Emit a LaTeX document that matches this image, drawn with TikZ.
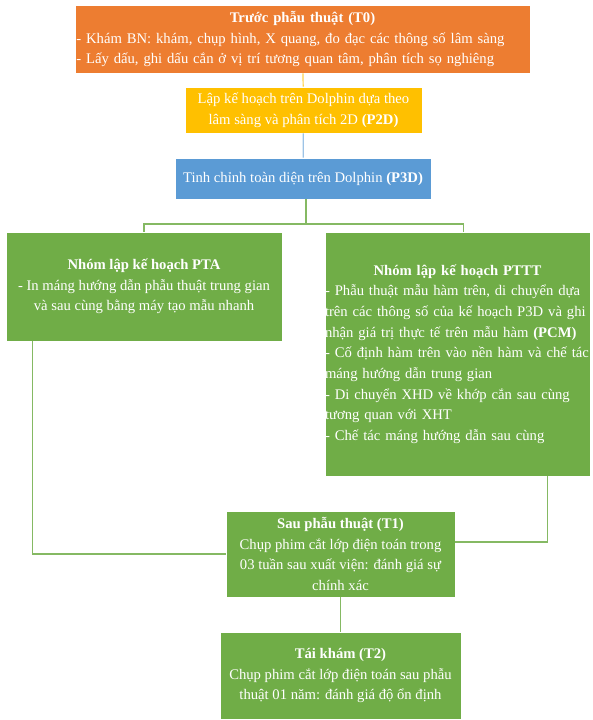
\documentclass[tikz,border=0pt]{standalone}
\usepackage{fontspec}
\setmainfont{Liberation Serif}
\definecolor{orgbox}{HTML}{ED7D31}
\definecolor{ylwbox}{HTML}{FFC000}
\definecolor{bluebox}{HTML}{5B9BD5}
\definecolor{grnbox}{HTML}{70AD47}
\setlength{\parindent}{0pt}
\begin{document}
\begin{tikzpicture}[x=0.75pt, y=-0.75pt,
  every node/.style = {shape=rectangle, draw=white, line width=0.6pt,
    text=white, align=center, inner xsep=1pt, inner ysep=1pt,
    font=\fontsize{11}{15.5}\selectfont},
  link/.style = {draw=grnbox!85!white, line width=0.9pt}]
  \useasboundingbox (0,0) rectangle (592,720);
  \node[fill=orgbox, text width=339.25pt, minimum height=51pt, align=left] (t0) at (302.5,39)
    {{\centering\textbf{Trước phẫu thuật (T0)}\par}
     - Khám BN: khám, chụp hình, X quang, đo đạc các thông số lâm sàng\\
     - Lấy dấu, ghi dấu cắn ở vị trí tương quan tâm, phân tích sọ nghiêng};
  \node[fill=ylwbox, minimum width=177.75pt, minimum height=34.5pt] (p2d) at (303.5,110)
    {Lập kế hoạch trên Dolphin dựa theo\\ lâm sàng và phân tích 2D \textbf{(P2D)}};
  \node[fill=bluebox, minimum width=192pt, minimum height=30.75pt] (p3d) at (303,178.5)
    {Tinh chỉnh toàn diện trên Dolphin \textbf{(P3D)}};
  \node[fill=grnbox, minimum width=207pt, minimum height=81.75pt] (pta) at (144,286.5)
    {\textbf{Nhóm lập kế hoạch PTA}\\
     - In máng hướng dẫn phẫu thuật trung gian\\
     và sau cùng bằng máy tạo mẫu nhanh};
  \node[fill=grnbox, text width=198.75pt, inner xsep=0pt, minimum height=183pt, align=left] (pttt) at (457.5,354)
    {{\centering\textbf{Nhóm lập kế hoạch PTTT}\par}
     \mbox{- Phẫu thuật mẫu hàm trên, di chuyển dựa}\\
     \mbox{trên các thông số của kế hoạch P3D và ghi}\\
     \mbox{nhận giá trị thực tế trên mẫu hàm \textbf{(PCM)}}\\
     \mbox{- Cố định hàm trên vào nền hàm và chế tác}\\
     máng hướng dẫn trung gian\\
     - Di chuyển XHD về khớp cắn sau cùng\\
     tương quan với XHT\\
     - Chế tác máng hướng dẫn sau cùng};
  \node[fill=grnbox, minimum width=171.75pt, minimum height=64.5pt] (t1) at (340.5,554)
    {\textbf{Sau phẫu thuật (T1)}\\
     Chụp phim cắt lớp điện toán trong\\
     03 tuần sau xuất viện: đánh giá sự\\
     chính xác};
  \node[fill=grnbox, minimum width=180.75pt, minimum height=65.25pt] (t2) at (340.5,675.5)
    {\textbf{Tái khám (T2)}\\
     Chụp phim cắt lớp điện toán sau phẫu\\
     thuật 01 năm: đánh giá độ ổn định};
  \coordinate (fork) at (306,224);
  \draw[draw=ylwbox!70!white, line width=0.9pt] (t0) -- (p2d);
  \draw[draw=bluebox!60!white, line width=0.9pt] (p2d) -- (p3d);
  \draw[link] (p3d.south -| fork) -- (fork);
  \draw[link] (pta.north) |- (fork) -| ([xshift=4.5pt]pttt.north);
  \draw[link] ([xshift=20.25pt]pta.south west) |- (t1.west);
  \draw[link] ([xshift=-32.25pt]pttt.south east) |- ([yshift=9pt]t1.east);
  \draw[link] (t1) -- (t2);
\end{tikzpicture}
\end{document}
